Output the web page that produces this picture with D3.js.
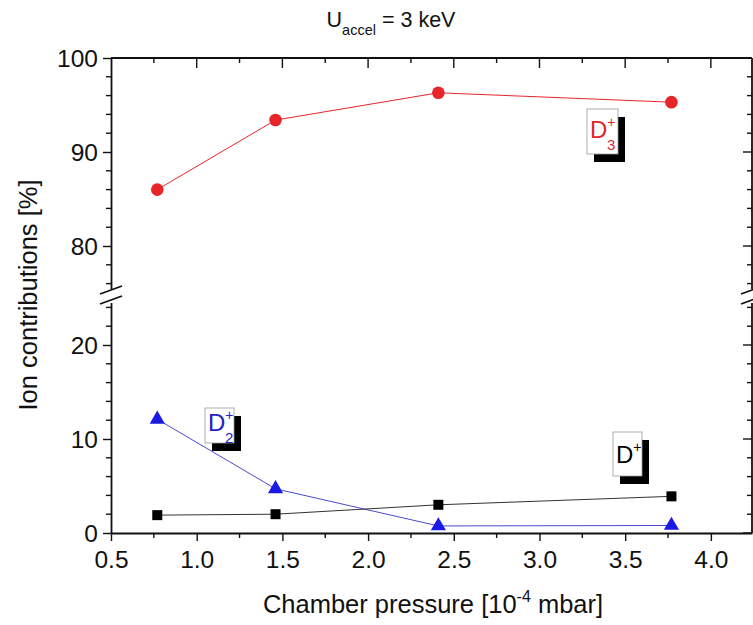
<!DOCTYPE html>
<html>
<head>
<meta charset="utf-8">
<script src="https://cdn.jsdelivr.net/npm/d3@7"></script>
<style>
  html, body { margin: 0; padding: 0; background: #fff; }
  svg { display: block; font-family: Arial, "Liberation Sans", sans-serif; }
</style>
</head>
<body>
<svg id="chart" width="753" height="625"></svg>
<script>
// Chamber pressure [10^-4 mbar]
const pressure = [0.77, 1.46, 2.41, 3.77];
// Ion contributions [%]
const d3Plus = [86.0, 93.4, 96.3, 95.3];
const d2Plus = [12.1, 4.7, 0.75, 0.8];
const dPlus  = [1.9, 2.0, 3.0, 3.9];

const xTicks = [0.5, 1.0, 1.5, 2.0, 2.5, 3.0, 3.5, 4.0];
const yTicksLow = [0, 10, 20];
const yTicksHigh = [80, 90, 100];

const svg = d3.select("#chart");
const plotLeft = 111, plotRight = 752, plotTop = 58, plotBottom = 533;
const fontFamily = "Arial, 'Liberation Sans', sans-serif";

const x = d3.scaleLinear().domain([0.5, 4.24]).range([plotLeft, plotRight]);
// broken y axis: lower part 0-25, upper part 75-100
const yLow = d3.scaleLinear().domain([0, 25]).range([plotBottom, 298]);
const yHigh = d3.scaleLinear().domain([75, 100]).range([293, plotTop]);
const y = v => v >= 50 ? yHigh(v) : yLow(v);

const axisColor = "#111";

// frame: top line
svg.append("line").attr("x1", plotLeft).attr("x2", plotRight).attr("y1", plotTop).attr("y2", plotTop)
  .attr("stroke", axisColor).attr("stroke-width", 1.8);

// bottom axis with outward ticks
const xMinor = d3.range(0.75, 4.2, 0.5);
const gx = svg.append("g").attr("transform", `translate(0,${plotBottom})`)
  .call(d3.axisBottom(x).tickValues(xTicks).tickFormat(d3.format(".1f")).tickSize(8).tickSizeOuter(0));
gx.append("g").selectAll("line").data(xMinor).join("line")
  .attr("x1", d => x(d)).attr("x2", d => x(d)).attr("y1", 0).attr("y2", 5)
  .attr("stroke", axisColor).attr("stroke-width", 1.4);

// top axis with inward ticks
const gxt = svg.append("g").attr("transform", `translate(0,${plotTop})`);
gxt.selectAll("line.maj").data(xTicks.slice(1)).join("line").attr("class", "maj")
  .attr("x1", d => x(d)).attr("x2", d => x(d)).attr("y1", 0).attr("y2", 10)
  .attr("stroke", axisColor).attr("stroke-width", 1.4);
gxt.selectAll("line.min").data(xMinor).join("line").attr("class", "min")
  .attr("x1", d => x(d)).attr("x2", d => x(d)).attr("y1", 0).attr("y2", 5)
  .attr("stroke", axisColor).attr("stroke-width", 1.4);

// left axis (two segments)
function leftAxis(scale, ticks, minors) {
  const g = svg.append("g").attr("transform", `translate(${plotLeft},0)`)
    .call(d3.axisLeft(scale).tickValues(ticks).tickSize(8).tickSizeOuter(0));
  g.append("g").selectAll("line").data(minors).join("line")
    .attr("x1", 0).attr("x2", -5).attr("y1", d => scale(d)).attr("y2", d => scale(d))
    .attr("stroke", axisColor).attr("stroke-width", 1.4);
  return g;
}
const gyl = leftAxis(yLow, yTicksLow, [2,4,6,8,12,14,16,18,22,24]);
const gyh = leftAxis(yHigh, yTicksHigh, [76,78,82,84,86,88,92,94,96,98]);

// right axis (two segments), inward ticks
function rightAxis(scale, ticks, minors) {
  const g = svg.append("g").attr("transform", `translate(${plotRight},0)`);
  const r = scale.range();
  g.append("line").attr("x1", 0).attr("x2", 0).attr("y1", r[0]).attr("y2", r[1])
    .attr("stroke", axisColor).attr("stroke-width", 1.8);
  g.selectAll("line.maj").data(ticks).join("line").attr("class", "maj")
    .attr("x1", 0).attr("x2", -9).attr("y1", d => scale(d)).attr("y2", d => scale(d))
    .attr("stroke", axisColor).attr("stroke-width", 1.4);
  g.selectAll("line.min").data(minors).join("line").attr("class", "min")
    .attr("x1", 0).attr("x2", -5).attr("y1", d => scale(d)).attr("y2", d => scale(d))
    .attr("stroke", axisColor).attr("stroke-width", 1.4);
}
rightAxis(yLow, yTicksLow, [2,4,6,8,12,14,16,18,22,24]);
rightAxis(yHigh, yTicksHigh, [76,78,82,84,86,88,92,94,96,98]);

// style axes
svg.selectAll(".domain").attr("stroke", axisColor).attr("stroke-width", 1.8);
svg.selectAll(".tick line").attr("stroke", axisColor).attr("stroke-width", 1.4);
svg.selectAll(".tick text").attr("fill", "#111").attr("font-size", 24.5)
  .attr("font-family", fontFamily);
gx.selectAll(".tick text").attr("y", 0).attr("dy", 35);
[gyl, gyh].forEach(g => g.selectAll(".tick text").attr("x", -13).attr("dy", "0.36em"));

// axis break markers
function breakMark(cx) {
  const g = svg.append("g");
  g.append("rect").attr("x", cx - 3).attr("y", 289).attr("width", 6).attr("height", 14).attr("fill", "#fff");
  [290, 300].forEach(cy => {
    g.append("line").attr("x1", cx - 11).attr("y1", cy + 4).attr("x2", cx + 11).attr("y2", cy - 4)
      .attr("stroke", axisColor).attr("stroke-width", 1.8);
  });
}
breakMark(plotLeft);
breakMark(plotRight);

// series lines and markers
const line = d3.line().x(d => x(d[0])).y(d => y(d[1]));
const series = [
  { vals: d3Plus, color: "#e8262a", shape: "circle" },
  { vals: d2Plus, color: "#1a1ae6", lineColor: "#4a4ad0", shape: "triangle" },
  { vals: dPlus,  color: "#000", lineColor: "#333", shape: "square" }
];
series.forEach(s => {
  const pts = pressure.map((p, i) => [p, s.vals[i]]);
  svg.append("path").datum(pts).attr("d", line).attr("fill", "none")
    .attr("stroke", s.lineColor || s.color).attr("stroke-width", 1);
  const sym = s.shape === "circle" ? d3.symbolCircle : s.shape === "triangle" ? d3.symbolTriangle : d3.symbolSquare;
  const size = s.shape === "circle" ? 125 : s.shape === "triangle" ? 100 : 100;
  svg.append("g").selectAll("path").data(pts).join("path")
    .attr("transform", d => `translate(${x(d[0])},${y(d[1])})`)
    .attr("d", d3.symbol().type(sym).size(size))
    .attr("fill", s.color);
});

// ion labels with drop shadow boxes
function ionLabel(bx, by, w, h, color, sub) {
  const g = svg.append("g").attr("font-family", fontFamily);
  g.append("rect").attr("x", bx + 7).attr("y", by + 8).attr("width", w).attr("height", h).attr("fill", "#000");
  g.append("rect").attr("x", bx).attr("y", by).attr("width", w).attr("height", h)
    .attr("fill", "#fff").attr("stroke", "#999").attr("stroke-width", 0.8);
  const baseY = sub ? by + h * 0.6 + 2 : by + h * 0.66 + 2;
  const t = g.append("text").attr("x", bx + 3).attr("y", baseY).attr("fill", color)
    .attr("font-size", 24);
  t.append("tspan").text("D");
  t.append("tspan").attr("font-size", 14).attr("dy", -11).text("+");
  if (sub) {
    g.append("text").attr("x", bx + 20).attr("y", baseY + 12).attr("fill", color)
      .attr("font-size", 15).text(sub);
  }
}
ionLabel(587, 109, 31, 45, "#e0282c", "3");
ionLabel(205, 408, 29, 35, "#2222c8", "2");
ionLabel(613, 432, 29, 44, "#000", null);

// title
const title = svg.append("text").attr("x", 391).attr("y", 27).attr("text-anchor", "middle")
  .attr("font-size", 21.5).attr("fill", "#111").attr("font-family", fontFamily);
title.append("tspan").text("U");
title.append("tspan").attr("font-size", 14.5).attr("dy", 8).text("accel");
title.append("tspan").attr("dy", -8).text(" = 3 keV");

// axis titles
const xl = svg.append("text").attr("x", 433).attr("y", 613).attr("text-anchor", "middle")
  .attr("font-size", 25.5).attr("fill", "#111").attr("font-family", fontFamily);
xl.append("tspan").text("Chamber pressure [10");
xl.append("tspan").attr("font-size", 16).attr("dy", -11).text("-4");
xl.append("tspan").attr("dy", 11).text(" mbar]");

svg.append("text").attr("transform", "translate(37,295) rotate(-90)").attr("text-anchor", "middle")
  .attr("font-size", 25.5).attr("fill", "#111").attr("font-family", fontFamily)
  .text("Ion contributions [%]");
</script>
</body>
</html>
